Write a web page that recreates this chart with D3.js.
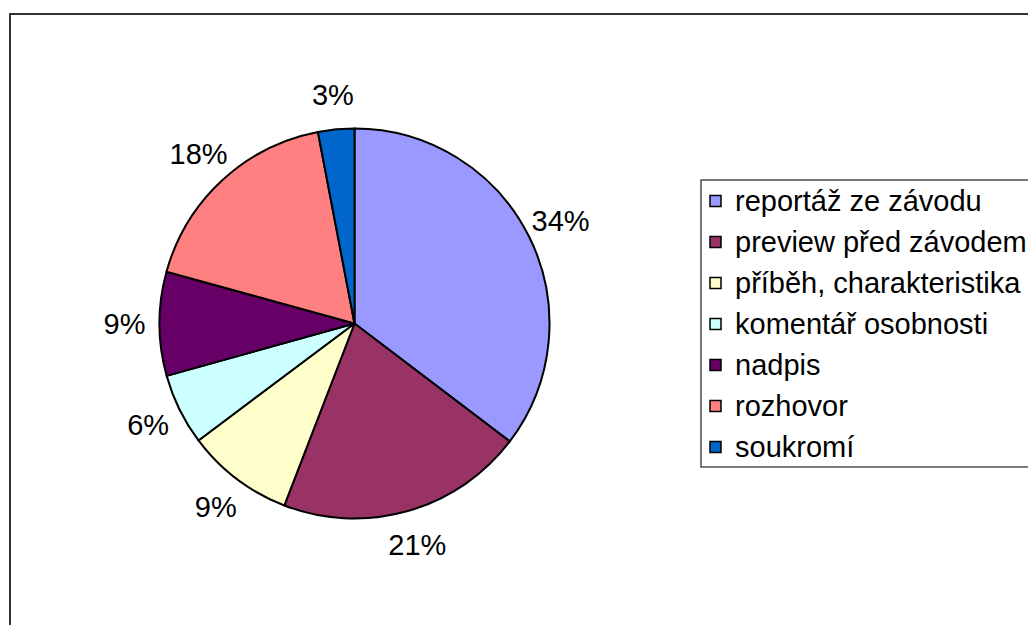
<!DOCTYPE html>
<html>
<head>
<meta charset="utf-8">
<script src="https://cdn.jsdelivr.net/npm/d3@7"></script>
<style>
  body { margin: 0; background: #fff; }
  svg text { font-family: "Liberation Sans", Arial, sans-serif; fill: #000; }
</style>
</head>
<body>
<div class="canvas"></div>
<script>
// categories and slice shares (percent)
var categories = ['reportáž ze závodu', 'preview před závodem', 'příběh, charakteristika',
                  'komentář osobnosti', 'nadpis', 'rozhovor', 'soukromí'];
var shares = [35.3, 20.5, 8.9, 5.9, 8.6, 17.7, 3.0];
var shareLabels = ['34%', '21%', '9%', '6%', '9%', '18%', '3%'];
var colors = ['#9999FF', '#993366', '#FFFFCC', '#CCFFFF', '#660066', '#FF8080', '#0066CC'];

var pageWidth = 1028, pageHeight = 625;
var cx = 354.5, cy = 323.5, radius = 195;

var svg = d3.select('.canvas')
    .append('svg')
    .attr('width', pageWidth)
    .attr('height', pageHeight);

// chart frame (runs off the right and bottom edges)
svg.append('rect')
    .attr('x', 10).attr('y', 14)
    .attr('width', 1040).attr('height', 640)
    .style('fill', 'none')
    .style('stroke', '#333')
    .style('stroke-width', 2);

var pie = d3.pie().sort(null).value(function(d){ return d; });
var arcs = pie(shares);

var arc = d3.arc().innerRadius(0).outerRadius(radius);
var labelArc = d3.arc().innerRadius(230).outerRadius(230);

var plot = svg.append('g')
    .attr('transform', 'translate(' + cx + ',' + cy + ')');

plot.selectAll('path.slice')
    .data(arcs)
    .enter()
    .append('path')
    .attr('class', 'slice')
    .attr('d', arc)
    .style('fill', function(d, i){ return colors[i]; })
    .style('stroke', '#000')
    .style('stroke-width', 2)
    .style('stroke-linejoin', 'round');

plot.selectAll('text.pct')
    .data(arcs)
    .enter()
    .append('text')
    .attr('class', 'pct')
    .attr('transform', function(d){ return 'translate(' + labelArc.centroid(d) + ')'; })
    .attr('text-anchor', 'middle')
    .attr('dominant-baseline', 'central')
    .style('font-size', '29px')
    .text(function(d, i){ return shareLabels[i]; });

// legend box (also cut off at the right)
var legendX = 701, legendY = 180, rowH = 41;
var legend = svg.append('g');
legend.append('rect')
    .attr('x', legendX).attr('y', legendY)
    .attr('width', 400).attr('height', rowH * categories.length)
    .style('fill', '#fff')
    .style('stroke', '#333')
    .style('stroke-width', 1.3);

var rows = legend.selectAll('g.row')
    .data(categories)
    .enter()
    .append('g')
    .attr('class', 'row')
    .attr('transform', function(d, i){
        return 'translate(' + legendX + ',' + (legendY + rowH / 2 + rowH * i) + ')';
    });

rows.append('rect')
    .attr('x', 9).attr('y', -5)
    .attr('width', 11).attr('height', 11)
    .style('fill', function(d, i){ return colors[i]; })
    .style('stroke', '#000')
    .style('stroke-width', 1.5);

rows.append('text')
    .attr('x', 34)
    .attr('y', 0)
    .attr('dominant-baseline', 'central')
    .style('font-size', '29px')
    .text(function(d){ return d; });
</script>
</body>
</html>
